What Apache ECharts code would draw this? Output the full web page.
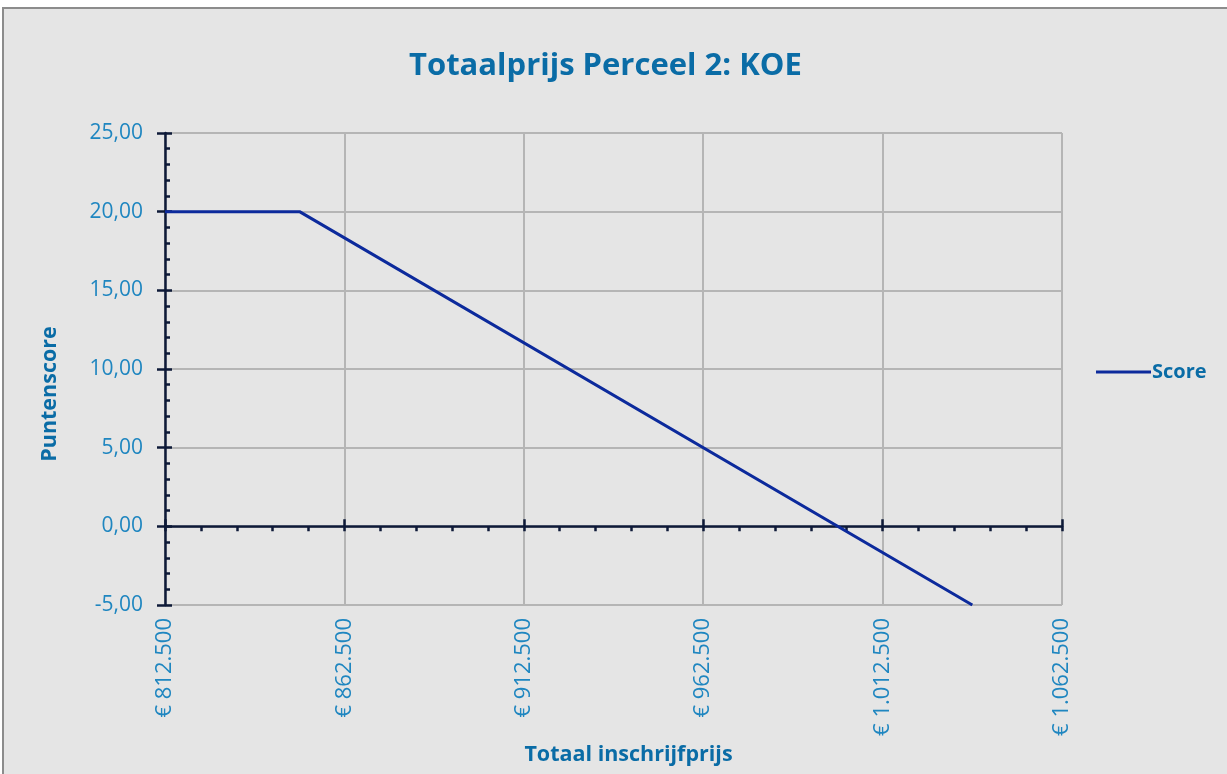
<!DOCTYPE html>
<html><head><meta charset="utf-8">
<script src="https://cdn.jsdelivr.net/npm/echarts@6/dist/echarts.min.js"></script>
<style>
html,body{margin:0;padding:0;background:#fff;width:1227px;height:774px;overflow:hidden;}
#frame{position:absolute;left:2px;top:7px;width:1240px;height:780px;border:2px solid #8c8c8c;background:#e5e5e5;}
#c{position:absolute;left:0;top:0;width:1227px;height:774px;}
</style></head>
<body><div id="frame"></div><div id="c"></div>
<script>
const prices = [812500, 850000, 1037500];
const scores = [20, 20, -5];
const xTicks = [812500, 862500, 912500, 962500, 1012500, 1062500];
const yTicks = [-5, 0, 5, 10, 15, 20, 25];

const labelBlue = '#1f86c0';
const titleBlue = '#0a6ca6';
const axisDark = '#0e1a38';
const gridGray = '#b5b5b5';
const font = 'Open Sans';

function fmtEuro(v){
  const s = Math.round(v).toString().replace(/\B(?=(\d{3})+(?!\d))/g, '.');
  return '€ ' + s;
}
function fmtScore(v){ return v.toFixed(2).replace('.', ','); }

const xMin = xTicks[0], xMax = xTicks[xTicks.length-1], xInt = xTicks[1]-xTicks[0];
const yMin = yTicks[0], yMax = yTicks[yTicks.length-1], yInt = yTicks[1]-yTicks[0];

const chart = echarts.init(document.getElementById('c'), null, {renderer:'canvas'});
chart.setOption({
  backgroundColor: 'transparent',
  animation: false,
  title: {
    text: 'Totaalprijs Perceel 2: KOE',
    left: 404, top: 46,
    textStyle: {color: titleBlue, fontFamily: font, fontWeight: 'bold', fontSize: 31}
  },
  legend: {
    data: ['Score'], left: 1091, top: 357, orient: 'vertical',
    icon: 'rect', itemWidth: 55, itemHeight: 3, itemGap: 4,
    textStyle: {color: titleBlue, fontFamily: font, fontWeight: 'bold', fontSize: 20, padding:[0,0,0,-4]}
  },
  grid: {left: 165, right: 165, top: 133, bottom: 169, containLabel: false},
  xAxis: [
    { type:'value', min:xMin, max:xMax, interval:xInt, position:'bottom',
      name:'Totaal inschrijfprijs', nameLocation:'middle', nameGap:122,
      nameTextStyle:{color:titleBlue, fontFamily:font, fontWeight:'bold', fontSize:21.5, padding:[0,0,0,30]},
      axisLine:{show:false, onZero:false}, axisTick:{show:false},
      axisLabel:{rotate:90, margin:13, color:labelBlue, fontFamily:font, fontSize:22, formatter:fmtEuro},
      splitLine:{show:true, lineStyle:{color:gridGray, width:2}} },
    { type:'value', min:xMin, max:xMax, interval:xInt,
      axisLine:{show:true, onZero:true, onZeroAxisIndex:0, lineStyle:{color:axisDark, width:2.5}},
      axisTick:{show:true, inside:true, length:5, lineStyle:{color:axisDark, width:2.5}},
      minorTick:{show:true, splitNumber:5, length:5, lineStyle:{color:axisDark, width:2.5}},
      axisLabel:{show:false}, splitLine:{show:false} },
    { type:'value', min:xMin, max:xMax, interval:xInt,
      axisLine:{show:false, onZero:true, onZeroAxisIndex:1},
      axisTick:{show:true, inside:false, length:7, lineStyle:{color:axisDark, width:2.5}},
      axisLabel:{show:false}, splitLine:{show:false} }
  ],
  yAxis: [
    { type:'value', min:yMin, max:yMax, interval:yInt, position:'left',
      name:'Puntenscore', nameLocation:'middle', nameGap:104, nameRotate:90,
      nameTextStyle:{color:titleBlue, fontFamily:font, fontWeight:'bold', fontSize:21.5, padding:[0,50,0,0]},
      axisLine:{show:true, onZero:false, lineStyle:{color:axisDark, width:2.5}},
      axisTick:{show:true, inside:false, length:8, lineStyle:{color:axisDark, width:2.5}},
      axisLabel:{margin:22, color:labelBlue, fontFamily:font, fontSize:21, formatter:fmtScore},
      splitLine:{show:true, lineStyle:{color:gridGray, width:2}} },
    { type:'value', min:yMin, max:yMax, interval:yInt, position:'left',
      axisLine:{show:false, onZero:false},
      axisTick:{show:true, inside:true, length:7, lineStyle:{color:axisDark, width:2.5}},
      minorTick:{show:true, splitNumber:5, length:5, lineStyle:{color:axisDark, width:2.5}},
      axisLabel:{show:false}, splitLine:{show:false} }
  ],
  series: [{
    name:'Score', type:'line', xAxisIndex:0, yAxisIndex:0,
    data: prices.map((p,i)=>[p, scores[i]]),
    showSymbol:false, symbol:'none',
    lineStyle:{color:'#0c2a9c', width:3}, itemStyle:{color:'#0c2a9c'}, z:5
  }]
});
</script></body></html>
